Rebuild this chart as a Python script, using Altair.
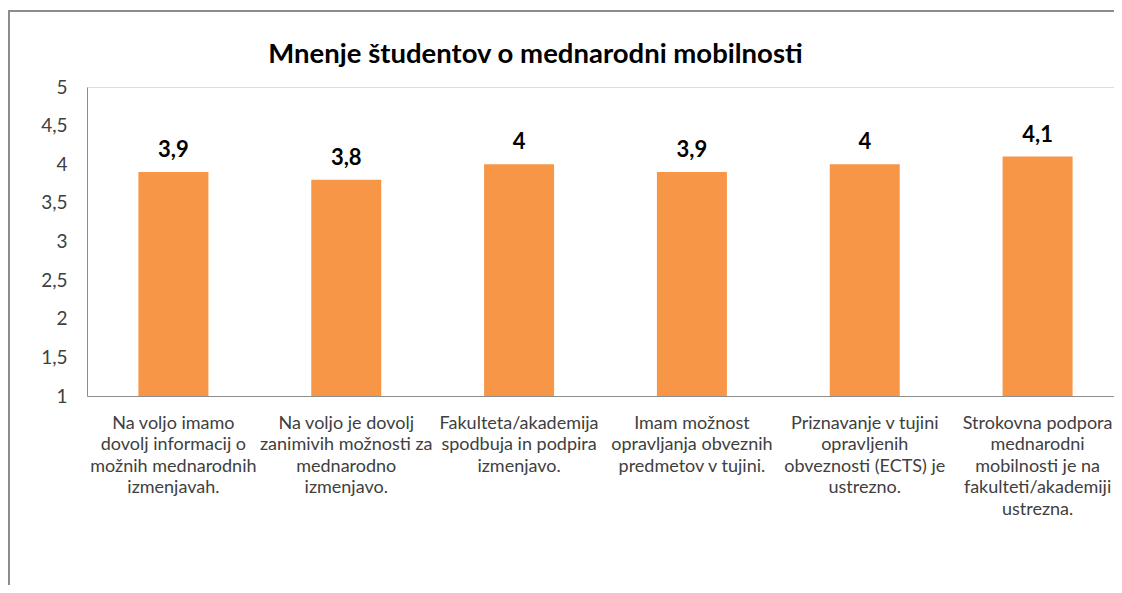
import altair as alt
import pandas as pd

categories = [
    "Na voljo imamo\ndovolj informacij o\nmožnih mednarodnih\nizmenjavah.",
    "Na voljo je dovolj\nzanimivih možnosti za\nmednarodno\nizmenjavo.",
    "Fakulteta/akademija\nspodbuja in podpira\nizmenjavo.",
    "Imam možnost\nopravljanja obveznih\npredmetov v tujini.",
    "Priznavanje v tujini\nopravljenih\nobveznosti (ECTS) je\nustrezno.",
    "Strokovna podpora\nmednarodni\nmobilnosti je na\nfakulteti/akademiji\nustrezna.",
]
values = [3.9, 3.8, 4.0, 3.9, 4.0, 4.1]
y_ticks = [1, 1.5, 2, 2.5, 3, 3.5, 4, 4.5, 5]
title_text = "Mnenje študentov o mednarodni mobilnosti"

df = pd.DataFrame({"kategorija": categories, "vrednost": values})

FONT = "Lato"
ORANGE = "#F79646"
GREY = "#8C8C8C"

x_enc = alt.X(
    "kategorija:N",
    sort=categories,
    title=None,
    scale=alt.Scale(paddingInner=0.595, paddingOuter=0.2975, range=[0, 1037]),
    axis=alt.Axis(
        labelExpr="split(datum.label, '\\n')",
        labelAngle=0,
        labelFont=FONT,
        labelFontSize=18,
        labelColor="#404040",
        labelLineHeight=21.5,
        labelPadding=18,
        labelLimit=300,
        ticks=False,
        grid=False,
        domainColor=GREY,
        domainWidth=1,
        labelBaseline="top",
    ),
)
y_enc = alt.Y(
    "vrednost:Q",
    title=None,
    scale=alt.Scale(domain=[1, 5], zero=False, nice=False),
    axis=alt.Axis(
        values=y_ticks,
        labelExpr="replace(toString(datum.value), '.', ',')",
        labelFont=FONT,
        labelFontSize=19,
        labelColor="#404040",
        labelPadding=20,
        labelOverlap=False,
        ticks=False,
        grid=False,
        domainColor=GREY,
        domainWidth=1,
    ),
)

bars = alt.Chart(df).mark_bar(color=ORANGE).encode(
    x=x_enc, y=y_enc, y2=alt.datum(1)
)

labels = (
    alt.Chart(df)
    .transform_calculate(oznaka="replace(toString(datum.vrednost), '.', ',')")
    .mark_text(font=FONT, fontSize=22, fontWeight="bold", color="#000000",
               baseline="alphabetic", dy=-15)
    .encode(x=x_enc, y=y_enc, text="oznaka:N")
)

one_df = pd.DataFrame({"t": [title_text]})
frame_top = alt.Chart(one_df).mark_rule(color=GREY, strokeWidth=2).encode(
    x=alt.value(-78), x2=alt.value(1100), y=alt.value(-76)
)
frame_left = alt.Chart(one_df).mark_rule(color=GREY, strokeWidth=2).encode(
    x=alt.value(-78), y=alt.value(-77), y2=alt.value(498)
)
title_mark = alt.Chart(one_df).mark_text(
    font=FONT, fontSize=27.5, fontWeight="bold", color="#000000",
    align="center", baseline="alphabetic"
).encode(x=alt.value(448.5), y=alt.value(-24), text="t:N")

chart = (
    alt.layer(frame_top, frame_left, title_mark, bars, labels)
    .properties(
        width=1027,
        height=309,
        autosize=alt.AutoSizeParams(type="none"),
        padding={"left": 79, "top": 79, "right": 0, "bottom": 189},
    )
    .configure_view(stroke="transparent", strokeWidth=0, strokeOpacity=0)
    .configure_axis(grid=False)
    .configure(background="#FFFFFF")
)

chart.save("out.html", embed_options={"renderer": "svg", "actions": False})
